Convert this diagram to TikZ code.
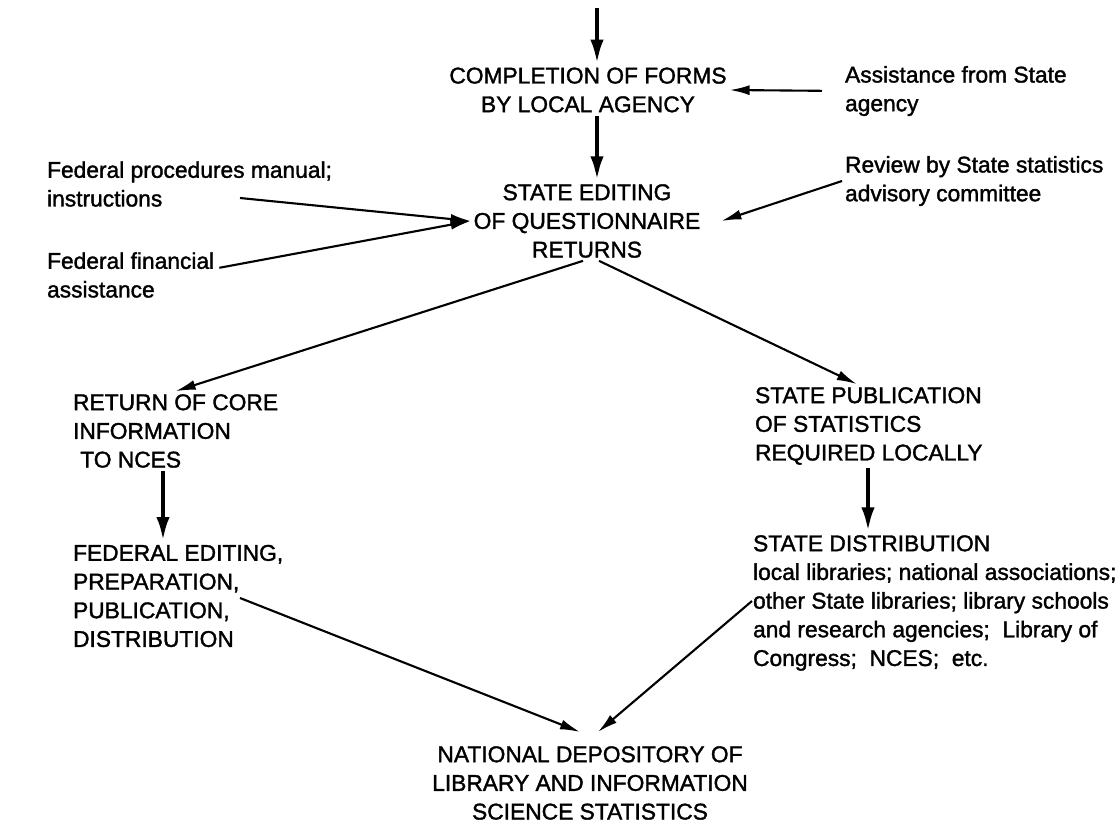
\documentclass[tikz,border=0pt]{standalone}
\usepackage{fontspec}
\newfontfamily\chartfont{Liberation Sans}[FakeBold=1.5]
\usetikzlibrary{arrows.meta}

\begin{document}
\begin{tikzpicture}[x=0.025cm, y=-0.025cm,
        txt/.style={font=\chartfont\fontsize{16.2}{20.4}\selectfont, inner sep=2pt},
        stage/.style={txt, align=center},
        input/.style={txt, align=left, anchor=west},
        flow/.style={line width=3.2pt, >={Latex[length=0.62cm,width=0.33cm]}, ->},
        feed/.style={line width=1.5pt, >={Latex[length=0.5cm,width=0.25cm]}, ->}]
        %\draw[step=1,gray,very thin] (0,0) grid (1120,828);
        \useasboundingbox (0,0) rectangle (1120,828);

        \coordinate (entry) at (597,8);
        \coordinate (leftcol) at (163,0);
        \coordinate (rightcol) at (868,0);

        % main chain
        \node[stage] (completion) at (588,90) {COMPLETION OF FORMS\\BY LOCAL AGENCY};
        \node[stage] (editing) at (587,221) {STATE EDITING\\OF QUESTIONNAIRE\\RETURNS};
        \node[input] (core) at (70,431) {RETURN OF CORE\\INFORMATION\\\hspace*{0.18cm}TO NCES};
        \node[input] (federal) at (70,596) {FEDERAL EDITING,\\PREPARATION,\\PUBLICATION,\\DISTRIBUTION};
        \node[input] (statepub) at (752,426) {STATE PUBLICATION\\OF STATISTICS\\REQUIRED LOCALLY};
        \node[input] (statedist) at (750,603) {STATE DISTRIBUTION\\local libraries; national associations;\\other State libraries; library schools\\and research agencies;\ \ Library of\\Congress;\ \ NCES;\ \ etc.};
        \node[stage] (depository) at (590,783) {NATIONAL DEPOSITORY OF\\LIBRARY AND INFORMATION\\SCIENCE STATISTICS};

        % side inputs
        \node[input] (assist) at (842,91) {Assistance from State\\agency};
        \node[input] (manual) at (44,184) {Federal procedures manual;\\instructions};
        \node[input] (finance) at (44,275) {Federal financial\\assistance};
        \node[input] (review) at (842,181) {Review by State statistics\\advisory committee};

        \coordinate (manualend) at (240,198);
        \coordinate (fedend) at (240,598);
        \coordinate (distend) at (752,601);

        \draw[flow] (entry) -- (completion.north -| entry);
        \draw[flow] (completion.south -| entry) -- (editing.north -| entry);
        \draw[flow] (core.south -| leftcol) -- (federal.north -| leftcol);
        \draw[flow] (statepub.south -| rightcol) -- (statedist.north -| rightcol);

        \draw[feed, shorten <=0.5cm] (assist.west) -- (completion.east);
        \draw[feed] (manualend) -- (editing.west);
        \draw[feed] ([shift={(0.05cm,0.18cm)}]finance.east) -- (editing.west);
        \draw[feed] (review.west) -- ([xshift=0.45cm]editing.east);

        \draw[feed] ([xshift=-0.1cm]editing.south) -- (core.north);
        \draw[feed] ([xshift=0.3cm]editing.south) -- ([xshift=-0.3cm]statepub.north);

        \draw[feed] (fedend) -- ([shift={(-0.25cm,0.28cm)}]depository.north);
        \draw[feed] (distend) -- ([shift={(0.2cm,0.28cm)}]depository.north);
\end{tikzpicture}
\end{document}
